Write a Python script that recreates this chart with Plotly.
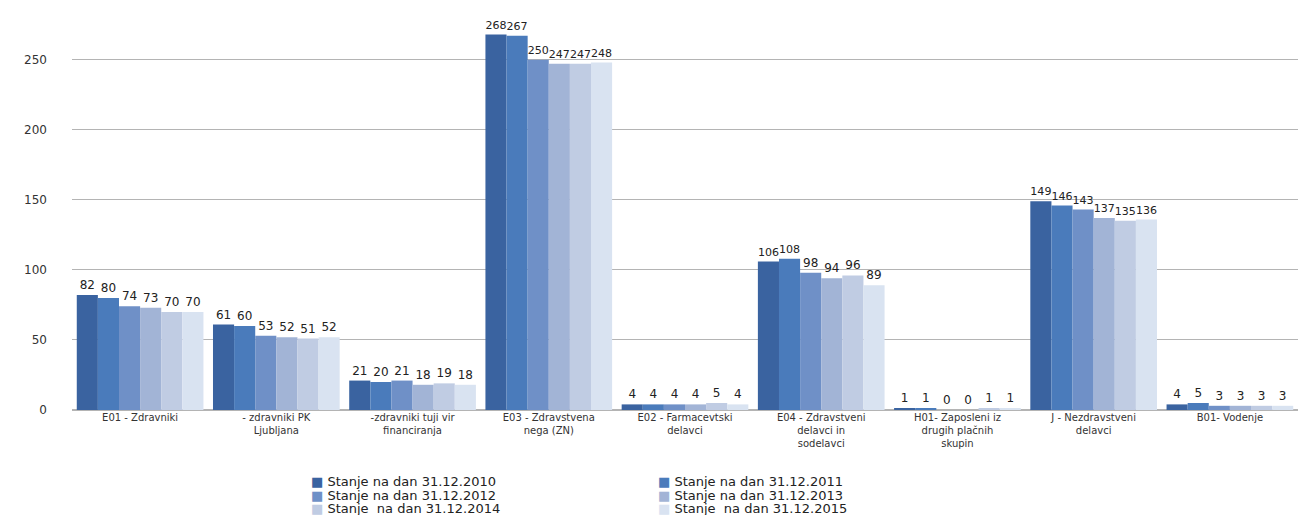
import plotly.graph_objects as go

categories = [
    "E01 - Zdravniki",
    "- zdravniki PK<br>Ljubljana",
    "-zdravniki tuji vir<br>financiranja",
    "E03 - Zdravstvena<br>nega (ZN)",
    "E02 - Farmacevtski<br>delavci",
    "E04 - Zdravstveni<br>delavci in<br>sodelavci",
    "H01- Zaposleni iz<br>drugih plačnih<br>skupin",
    "J - Nezdravstveni<br>delavci",
    "B01- Vodenje",
]
series_names = [
    "Stanje na dan 31.12.2010",
    "Stanje na dan 31.12.2011",
    "Stanje na dan 31.12.2012",
    "Stanje na dan 31.12.2013",
    "Stanje  na dan 31.12.2014",
    "Stanje  na dan 31.12.2015",
]
v2010 = [82, 61, 21, 268, 4, 106, 1, 149, 4]
v2011 = [80, 60, 20, 267, 4, 108, 1, 146, 5]
v2012 = [74, 53, 21, 250, 4, 98, 0, 143, 3]
v2013 = [73, 52, 18, 247, 4, 94, 0, 137, 3]
v2014 = [70, 51, 19, 247, 5, 96, 1, 135, 3]
v2015 = [70, 52, 18, 248, 4, 89, 1, 136, 3]
values = [v2010, v2011, v2012, v2013, v2014, v2015]
colors = ["#3a63a0", "#4a7bbb", "#6f90c7", "#a2b4d6", "#c0cce3", "#d9e3f1"]

W, H = 1306, 515
ML, MR, MT, MB = 72, 8, 5, 105
PW, PH = W - ML - MR, H - MT - MB

fig = go.Figure()
for name, vals, col in zip(series_names, values, colors):
    fig.add_trace(go.Bar(
        x=categories, y=vals, name=name,
        marker=dict(color=col, line=dict(width=0)),
        text=[str(v) for v in vals], textposition="outside",
        textfont=dict(family="DejaVu Sans", size=12, color="#222222"),
        cliponaxis=False, showlegend=False,
    ))

# legend drawn as text entries in two columns (series order row-wise)
col_x = [309, 656]
row_y = [481, 495, 508]
annotations = []
for i, (name, col) in enumerate(zip(series_names, colors)):
    cx = col_x[i % 2]
    ry = row_y[i // 2]
    annotations.append(dict(
        xref="paper", yref="paper",
        x=(cx - ML) / PW, y=(H - MB - ry) / PH,
        xanchor="left", yanchor="middle", showarrow=False,
        text=f"<span style='color:{col}'>■</span> {name}",
        font=dict(family="DejaVu Sans", size=13, color="#222222"),
    ))

fig.update_layout(
    width=W, height=H,
    margin=dict(l=ML, r=MR, t=MT, b=MB, autoexpand=False),
    plot_bgcolor="white", paper_bgcolor="white",
    barmode="group", bargap=0.07, bargroupgap=0,
    font=dict(family="DejaVu Sans", color="#222222"),
    yaxis=dict(range=[0, 289], tickvals=[0, 50, 100, 150, 200, 250],
               showgrid=True, gridcolor="#b4b4b4", gridwidth=1,
               zeroline=True, zerolinecolor="#b4b4b4",
               ticklabelstandoff=24, tickfont=dict(size=12, color="#333333")),
    xaxis=dict(tickfont=dict(size=10, color="#333333"), showline=False,
               ticks="", tickangle=0),
    showlegend=False,
    annotations=annotations,
)

fig.write_html("out.html", config={"displayModeBar": False},
               post_script="document.body.style.margin='0';document.body.style.padding='0';")
